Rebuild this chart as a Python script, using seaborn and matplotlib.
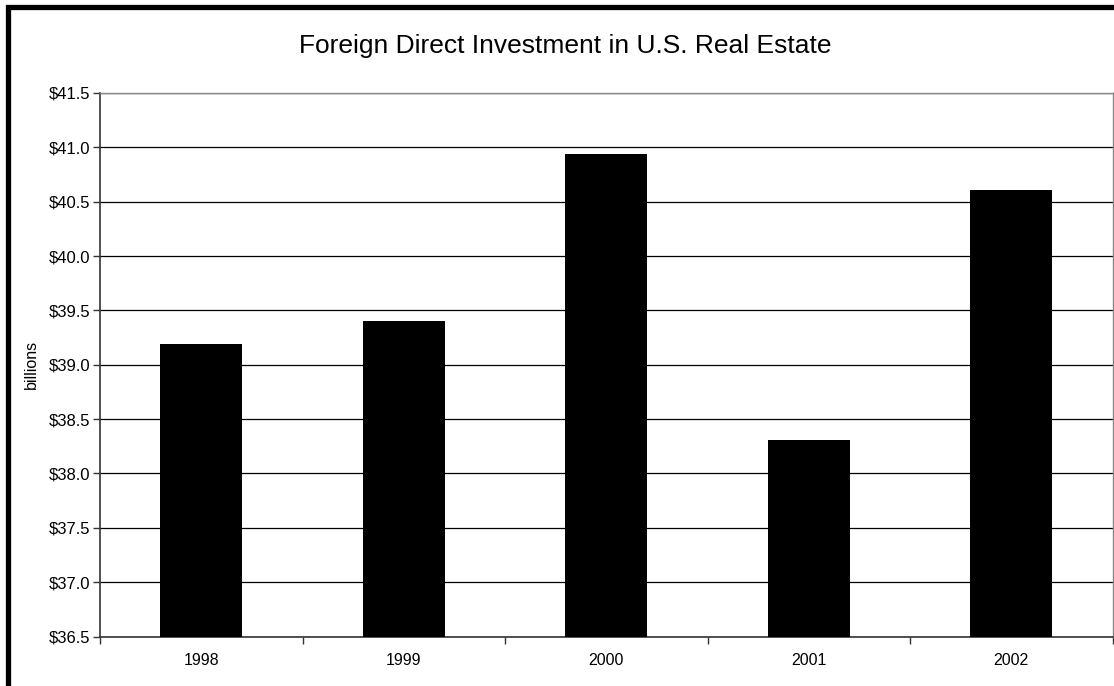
import matplotlib
matplotlib.use("Agg")
import matplotlib.pyplot as plt
import matplotlib.ticker as mticker
from matplotlib.patches import Rectangle
import seaborn as sns
import pandas as pd
import numpy as np

years = ["1998", "1999", "2000", "2001", "2002"]
values = [39.19, 39.40, 40.94, 38.31, 40.61]
title = "Foreign Direct Investment in U.S. Real Estate"
ylabel = "billions"

sns.set_style("white")
plt.rcParams['font.family'] = ['Liberation Sans', 'DejaVu Sans']
plt.rcParams['text.color'] = 'black'
plt.rcParams['axes.labelcolor'] = 'black'
plt.rcParams['xtick.color'] = 'black'
plt.rcParams['ytick.color'] = 'black'

df = pd.DataFrame({"year": years, "value": values})

fig = plt.figure(figsize=(11.14, 6.86), dpi=100)
ax = fig.add_axes([100/1114, 1 - 636.5/686, (1112.5 - 100)/1114, (636.5 - 93)/686])

sns.barplot(data=df, x="year", y="value", color="black", width=0.405,
            saturation=1, ax=ax, edgecolor="black", linewidth=0, zorder=3)

ax.set_ylim(36.5, 41.5)
ax.set_xlim(-0.5, len(years) - 0.5)
ax.yaxis.set_major_locator(mticker.MultipleLocator(0.5))
ax.yaxis.set_major_formatter(mticker.FuncFormatter(lambda v, p: f"${v:.1f}"))
ax.yaxis.grid(True, color="black", linewidth=0.9, zorder=0)
ax.set_axisbelow(True)

ax.xaxis.set_minor_locator(mticker.FixedLocator(np.arange(-0.5, len(years), 1.0)))
ax.tick_params(axis="x", which="both", bottom=True)
ax.tick_params(axis="y", which="major", left=True)
ax.tick_params(axis="x", which="major", length=0, pad=12, labelsize=11.5, labelcolor="black")
ax.tick_params(axis="x", which="minor", length=5, width=1, color="#333333", direction="out")
ax.tick_params(axis="y", which="major", length=5, width=1, color="#333333",
               direction="out", labelsize=12, pad=2, labelcolor="black")

for s in ["left", "bottom"]:
    ax.spines[s].set_color("#333333")
    ax.spines[s].set_linewidth(1.2)
for s in ["top", "right"]:
    ax.spines[s].set_color("#888888")
    ax.spines[s].set_linewidth(1.0)
    ax.spines[s].set_visible(True)

ax.set_xlabel("")
ax.set_ylabel(ylabel, fontsize=11.5, labelpad=7, color="black")

fig.text(565/1114, 1 - 46/686, title, fontsize=19, ha="center", va="center", color="black")

# outer frame (extends beyond the right and bottom edges)
fig.patches.append(Rectangle((7.5/1114, -0.1), 1.2, 1 - 7/686 + 0.1,
                             transform=fig.transFigure, fill=False,
                             edgecolor="black", linewidth=3.8, zorder=10))

fig.savefig("out.png", dpi=100, facecolor="white")
